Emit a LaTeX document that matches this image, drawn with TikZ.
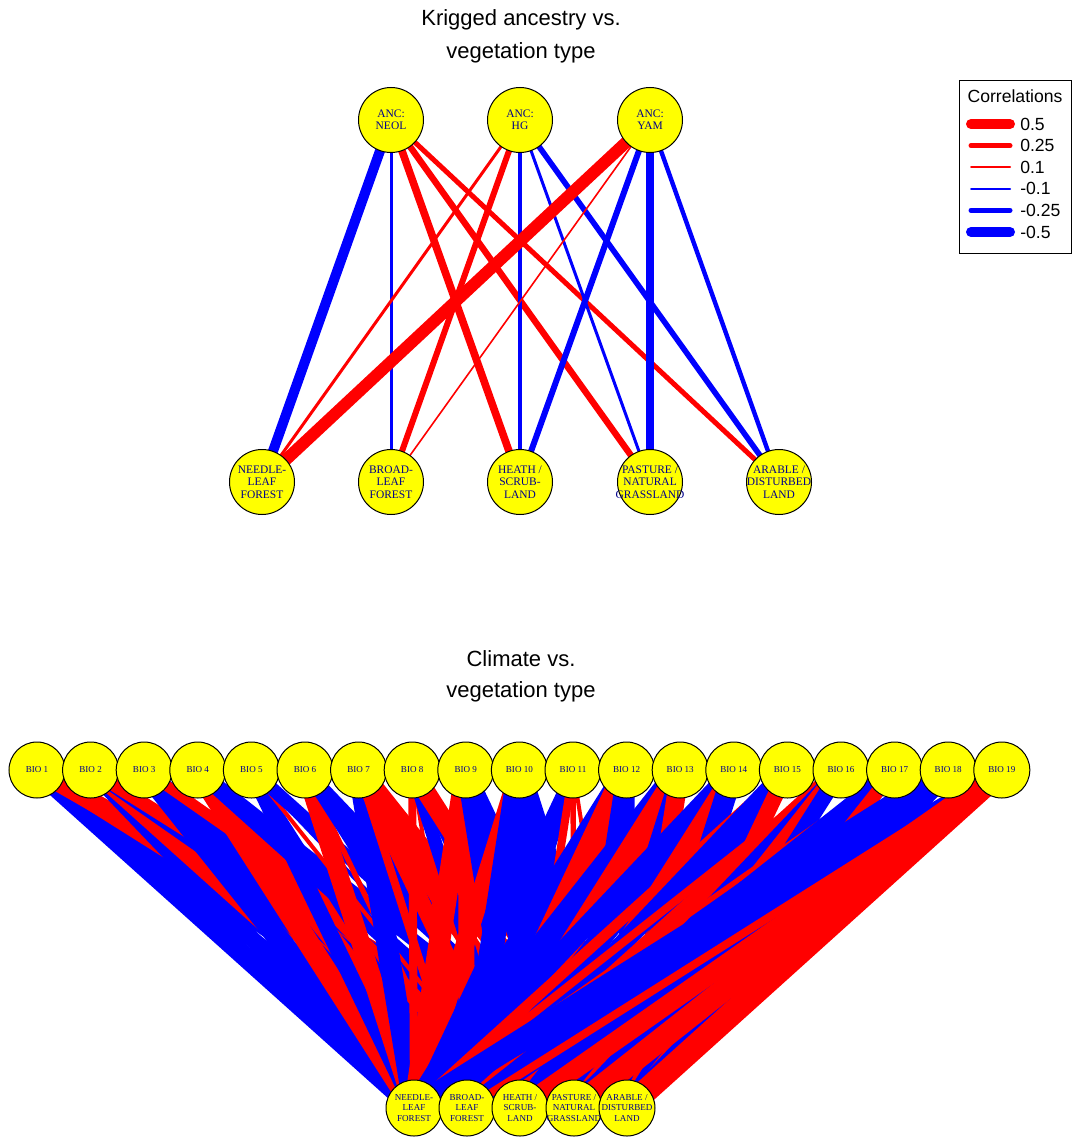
\documentclass[tikz,border=0pt]{standalone}
\usepackage{fontspec}
\setmainfont{Liberation Serif}
\newfontfamily\hv{Liberation Sans}
\definecolor{dblue}{HTML}{00008B}
\definecolor{pred}{HTML}{FF0000}
\definecolor{pblue}{HTML}{0000FF}
\definecolor{pyel}{HTML}{FFFF00}
\pgfdeclarelayer{bg}
\pgfsetlayers{bg,main}
\tikzset{
  vbig/.style={circle,draw=black,line width=0.75pt,fill=pyel,minimum size=48.75pt,inner sep=0pt},
  vsmall/.style={circle,draw=black,line width=0.75pt,fill=pyel,minimum size=42pt,inner sep=0pt},
  lbig/.style={inner sep=0pt,align=center,text=dblue,font=\fontsize{8.6}{9.3}\selectfont},
  lsmall/.style={inner sep=0pt,align=center,text=dblue,font=\fontsize{6.8}{8.2}\selectfont},
  ttl/.style={font=\hv\fontsize{16.5}{18}\selectfont,inner sep=0pt},
  legtxt/.style={font=\hv\fontsize{13.2}{14}\selectfont,inner sep=0pt,anchor=west},
}
\begin{document}
\begin{tikzpicture}[x=0.75pt,y=-0.75pt]
\useasboundingbox (0,0) rectangle (1072,1138);
% ---------- titles
\node[ttl] (t1) at (521,20) {Krigged ancestry vs.};
\node[ttl] (t2) at (521,53) {vegetation type};
\node[ttl] (t3) at (521,659) {Climate vs.};
\node[ttl] (t4) at (521,692) {vegetation type};
% ---------- top graph nodes
\foreach \nm/\xx/\yy/\txt in {a1/391/120/{ANC:\\NEOL},a2/520/120/{ANC:\\HG},a3/650/120/{ANC:\\YAM},
  u1/262/482/{NEEDLE-\\LEAF\\FOREST},u2/391/482/{BROAD-\\LEAF\\FOREST},u3/520/482/{HEATH /\\SCRUB-\\LAND},
  u4/650/482/{PASTURE /\\NATURAL\\GRASSLAND},u5/779/482/{ARABLE /\\DISTURBED\\LAND}}{
  \node[vbig] (\nm) at (\xx,\yy) {};
  \node[lbig] (\nm t) at (\nm.center) {\txt};
}
\begin{pgfonlayer}{bg}
\foreach \s/\t/\r in {1/1/-0.5,1/2/-0.15,1/3/0.38,1/4/0.32,1/5/0.25,
                      2/1/0.15,2/2/0.3,2/3/-0.18,2/4/-0.15,2/5/-0.28,
                      3/1/0.6,3/2/0.08,3/3/-0.3,3/4/-0.42,3/5/-0.22}{
  \pgfmathsetmacro\ew{abs(\r)*15}
  \pgfmathsetmacro\pos{\r>0}
  \ifdim\pos pt>0.5pt \def\col{pred}\else\def\col{pblue}\fi
  \draw[line width=\ew pt,draw=\col] (a\s.center) -- (u\t.center);
}
\end{pgfonlayer}
% ---------- legend
\node[draw=black,line width=0.75pt,minimum width=84pt,minimum height=129pt,inner sep=0pt] (leg) at (1015,167) {};
\node[font=\hv\fontsize{13.2}{14}\selectfont,inner sep=0pt] (legt) at (1015,96) {Correlations};
\foreach \k/\lab/\lw/\col [count=\n] in {1/0.5/7.5/pred,2/0.25/3.75/pred,3/0.1/1.5/pred,4/-0.1/1.5/pblue,5/-0.25/3.75/pblue,6/-0.5/7.5/pblue}{
  \pgfmathsetmacro\yy{124+(\n-1)*21.6}
  \coordinate (l\k a) at (971,\yy);
  \coordinate (l\k b) at (1010,\yy);
  \draw[line width=\lw pt,draw=\col,line cap=round] (l\k a) -- (l\k b);
  \node[legtxt] (lt\k) at (1020,\yy) {\lab};
}
% ---------- bottom graph nodes
\foreach \i in {1,...,19}{
  \pgfmathsetmacro\xx{37+(\i-1)*53.6}
  \node[vsmall] (b\i) at (\xx,770) {};
  \node[lsmall] (b\i t) at (b\i.center) {BIO \i};
}
\foreach \nm/\xx/\txt in {v1/414/{NEEDLE-\\LEAF\\FOREST},v2/467/{BROAD-\\LEAF\\FOREST},v3/520/{HEATH /\\SCRUB-\\LAND},
  v4/574/{PASTURE /\\NATURAL\\GRASSLAND},v5/627/{ARABLE /\\DISTURBED\\LAND}}{
  \node[vsmall] (\nm) at (\xx,1108) {};
  \node[lsmall] (\nm t) at (\nm.center) {\txt};
}
\begin{pgfonlayer}{bg}
\foreach \s/\t/\r in {
 1/1/-0.75,1/2/-0.6,1/3/-0.5,1/4/0.5,1/5/0.7,
 2/1/-0.6,2/2/0.5,2/3/0.6,2/4/-0.5,2/5/0.5,
 3/1/-0.8,3/2/-0.6,3/3/-0.7,3/4/-0.5,3/5/0.4,
 4/1/0.8,4/2/0.7,4/3/0.6,4/4/-0.6,4/5/-0.5,
 5/1/-0.6,5/2/-0.3,5/3/0.15,5/4/-0.15,5/5/-0.5,
 6/1/0.7,6/2/0.2,6/3/-0.4,6/4/-0.6,6/5/-0.5,
 7/1/-0.8,7/2/0.3,7/3/0.6,7/4/0.7,7/5/0.8,
 8/1/0.3,8/2/0.15,8/3/-0.5,8/4/-0.25,8/5/0.7,
 9/1/0.8,9/2/0.6,9/3/-0.7,9/4/-0.8,9/5/-0.6,
 10/1/0.7,10/2/-0.9,10/3/-0.8,10/4/-0.7,10/5/-0.8,
 11/1/-0.4,11/2/-0.5,11/3/0.3,11/4/0.2,11/5/0.15,
 12/1/-0.8,12/2/0.9,12/3/0.6,12/4/-0.7,12/5/-0.6,
 13/1/-0.9,13/2/0.8,13/3/0.8,13/4/-0.6,13/5/0.7,
 14/1/-0.7,14/2/-0.8,14/3/0.6,14/4/0.5,14/5/-0.8,
 15/1/0.4,15/2/-0.7,15/3/-0.7,15/4/-0.8,15/5/0.6,
 16/1/0.3,16/2/0.7,16/3/-0.6,16/4/0.7,16/5/-0.6,
 17/1/0.2,17/2/-0.6,17/3/-0.8,17/4/-0.7,17/5/0.5,
 18/1/-0.85,18/2/-0.7,18/3/-0.75,18/4/-0.9,18/5/-0.8,
 19/1/-0.5,19/2/0.3,19/3/0.7,19/4/0.85,19/5/0.9}{
  \pgfmathsetmacro\ew{abs(\r)*20}
  \pgfmathsetmacro\pos{\r>0}
  \ifdim\pos pt>0.5pt \def\col{pred}\else\def\col{pblue}\fi
  \draw[line width=\ew pt,draw=\col] (b\s.center) -- (v\t.center);
}
\end{pgfonlayer}
\end{tikzpicture}
\end{document}
